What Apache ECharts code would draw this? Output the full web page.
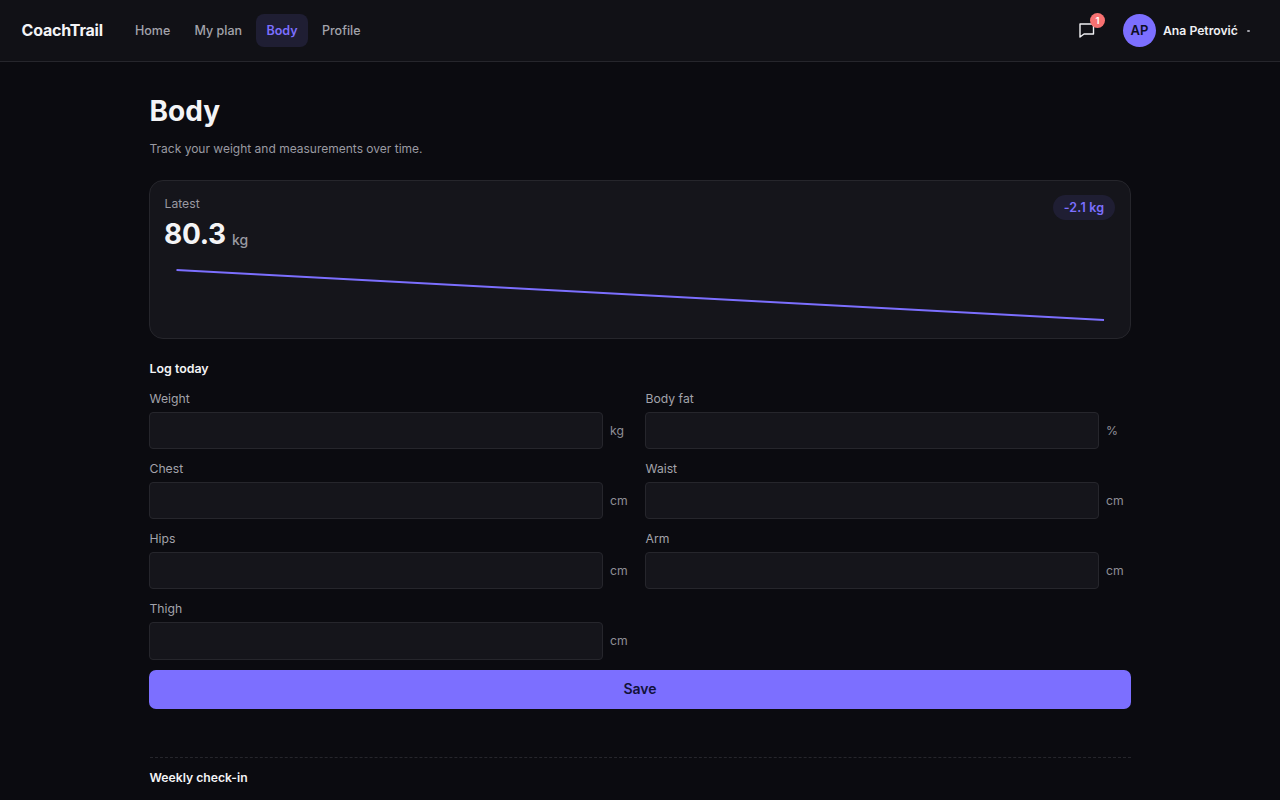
<!DOCTYPE html>
<html>
<head>
<meta charset="utf-8">
<title>CoachTrail - Body</title>
<script src="https://cdn.jsdelivr.net/npm/echarts@6/dist/echarts.min.js"></script>
<style>
    * { box-sizing: border-box; }
    html, body { margin: 0; height: 800px; overflow: hidden; background: #0b0b10; color: #f4f4f6; font-family: Inter, "Noto Sans", sans-serif; }
    .abs { position: absolute; white-space: nowrap; }
    header { position: absolute; left: 0; top: 0; width: 1280px; height: 62px; background: #111116; border-bottom: 1px solid #26262c; }
    .logo { left: 21.5px; top: 20px; font-size: 16px; line-height: 20px; font-weight: 700; letter-spacing: -0.2px; }
    .nav { top: 22px; font-size: 12.5px; line-height: 18px; font-weight: 500; color: #a3a3ab; }
    .nav.on { color: #7c6fff; font-weight: 600; }
    .navbg { left: 256px; top: 14px; width: 52px; height: 33px; border-radius: 8px; background: #1f1e33; }
    .badge { left: 1090px; top: 13px; width: 15px; height: 15px; border-radius: 50%; background: #f87171; color: #fff; font-size: 9.5px; line-height: 15px; text-align: center; font-weight: 600; }
    .avatar { left: 1123px; top: 14px; width: 33px; height: 33px; border-radius: 50%; background: #7c6fff; color: #0e0e24; font-size: 13px; line-height: 33px; text-align: center; font-weight: 600; }
    .user { left: 1163px; top: 22px; font-size: 12.2px; line-height: 18px; font-weight: 600; color: #f0f0f3; }
    .caret { left: 1247px; top: 30px; width: 3px; height: 2px; background: #a3a3ab; border-radius: 1px; }
    h1 { margin: 0; left: 149.5px; top: 94px; font-size: 28px; line-height: 34px; font-weight: 700; }
    .sub { left: 149.5px; top: 140px; font-size: 12px; line-height: 18px; color: #9a9aa2; }
    .card { left: 149px; top: 180px; width: 982px; height: 158.5px; border-radius: 14px; background: #15151b; border: 1px solid #26262c; }
    .latest { left: 164.5px; top: 195px; font-size: 12.2px; line-height: 17px; color: #9a9aa2; }
    .value { left: 164px; top: 215px; font-size: 28px; line-height: 38px; font-weight: 700; letter-spacing: -0.3px; }
    .unit { left: 232px; top: 231px; font-size: 14px; line-height: 18px; font-weight: 500; color: #9a9aa2; }
    .pill { left: 1053px; top: 195px; width: 62px; height: 25px; border-radius: 13px; background: #1f1e33; color: #7c6fff; font-size: 12.5px; line-height: 25px; text-align: center; font-weight: 600; letter-spacing: 0.2px; }
    #sparkline { position: absolute; left: 165px; top: 255px; width: 950px; height: 80px; }
    h2 { margin: 0; left: 149.5px; top: 360px; font-size: 12.4px; line-height: 18px; font-weight: 600; }
    .flabel { font-size: 12.2px; line-height: 18px; color: #a3a3ab; }
    .input { width: 454px; border-radius: 4px; background: #15151b; border: 1px solid #26262c; }
    .funit { font-size: 12.2px; line-height: 18px; color: #8f8f97; }
    .save { left: 149px; top: 670px; width: 982px; height: 39px; border-radius: 7px; background: #7c6fff; color: #12123a; font-size: 14px; line-height: 38px; text-align: center; font-weight: 600; }
    .rule { left: 149.5px; top: 757px; width: 981.5px; border-top: 1px dashed #26262c; }
    .weekly { left: 149.5px; top: 769px; font-size: 12.2px; line-height: 18px; font-weight: 600; }
</style>
</head>
<body>
<header></header>
<div class="abs logo">CoachTrail</div>
<div class="abs navbg"></div>
<div id="nav"></div>
<svg class="abs" style="left:1078px;top:21px" width="18" height="18" viewBox="0 0 18 18" fill="none" stroke="#f0f0f3" stroke-width="1.4" stroke-linejoin="round"><path d="M2 3h13.5v10H6l-4 3z"/></svg>
<div class="abs badge">1</div>
<div class="abs avatar">AP</div>
<div class="abs user">Ana Petrović</div>
<div class="abs caret"></div>

<h1 class="abs">Body</h1>
<div class="abs sub">Track your weight and measurements over time.</div>

<div class="abs card"></div>
<div class="abs latest">Latest</div>
<div class="abs value">80.3</div>
<div class="abs unit">kg</div>
<div class="abs pill">-2.1 kg</div>
<div id="sparkline"></div>

<h2 class="abs">Log today</h2>
<div id="fields"></div>
<div class="abs save">Save</div>
<div class="abs rule"></div>
<div class="abs weekly">Weekly check-in</div>

<script>
const weightPoints = ['Start', 'Latest'];
const weightValues = [82.4, 80.3];

const navLabels = ['Home', 'My plan', 'Body', 'Profile'];
const navLefts = [135, 194.5, 266.5, 322];

const fieldLabels = ['Weight', 'Body fat', 'Chest', 'Waist', 'Hips', 'Arm', 'Thigh'];
const fieldUnits = ['kg', '%', 'cm', 'cm', 'cm', 'cm', 'cm'];

// Top nav
const nav = document.getElementById('nav');
navLabels.forEach((label, i) => {
    const el = document.createElement('div');
    el.className = 'abs nav' + (label === 'Body' ? ' on' : '');
    el.style.left = navLefts[i] + 'px';
    el.textContent = label;
    nav.appendChild(el);
});

// Form fields, two columns
const fields = document.getElementById('fields');
fieldLabels.forEach((label, i) => {
    const left = i % 2 ? 645 : 149;
    const top = 390 + Math.floor(i / 2) * 70;
    const height = i === 6 ? 38 : 37;
    fields.insertAdjacentHTML('beforeend',
        `<div class="abs flabel" style="left:${left + 0.5}px;top:${top}px">${label}</div>` +
        `<div class="abs input" style="left:${left}px;top:${top + 22}px;height:${height}px"></div>` +
        `<div class="abs funit" style="left:${left + 461}px;top:${top + 32}px">${fieldUnits[i]}</div>`);
});

// Weight sparkline
const sparkline = echarts.init(document.getElementById('sparkline'));
sparkline.setOption({
    animation: false,
    grid: { left: 11.5, right: 11, top: 15, bottom: 15 },
    xAxis: { type: 'category', boundaryGap: false, data: weightPoints, show: false },
    yAxis: { type: 'value', min: 80.3, max: 82.4, show: false },
    series: [
        {
            name: 'Weight',
            type: 'line',
            data: weightValues,
            symbol: 'none',
            clip: false,
            lineStyle: { color: '#7c6fff', width: 2, cap: 'butt' }
        }
    ]
});
</script>
</body>
</html>
